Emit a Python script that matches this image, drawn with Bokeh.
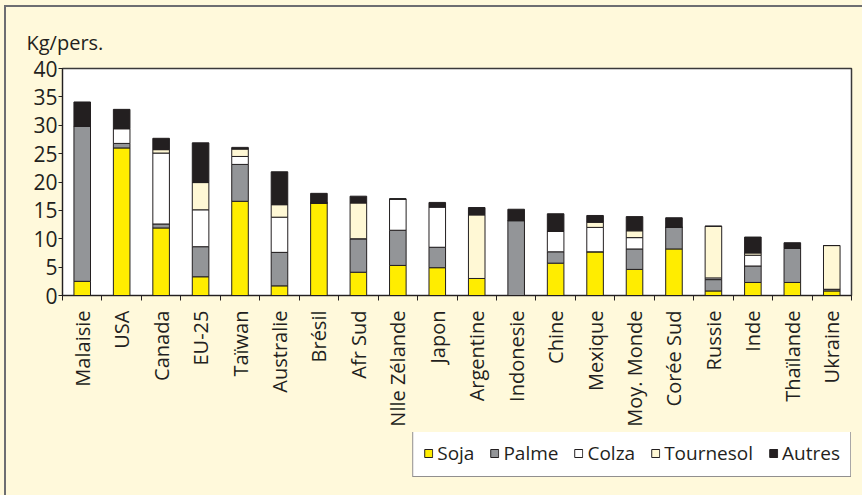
import math
from bokeh.plotting import figure
from bokeh.layouts import column
from bokeh.models import FixedTicker, Legend, LegendItem
from bokeh.embed import file_html
from bokeh.resources import INLINE

countries = ["Malaisie", "USA", "Canada", "EU-25", "Taïwan", "Australie", "Brésil",
             "Afr Sud", "Nlle Zélande", "Japon", "Argentine", "Indonesie", "Chine",
             "Mexique", "Moy. Monde", "Corée Sud", "Russie", "Inde", "Thaïlande", "Ukraine"]
soja      = [2.5, 26.0, 11.9, 3.3, 16.6, 1.7, 16.3, 4.1, 5.3, 4.9, 3.0, 0.0, 5.7, 7.7, 4.6, 8.2, 0.8, 2.3, 2.3, 0.8]
palme     = [27.3, 0.8, 0.7, 5.3, 6.5, 5.9, 0.0, 5.9, 6.2, 3.6, 0.0, 13.2, 2.0, 0.0, 3.6, 3.8, 2.0, 2.9, 6.0, 0.3]
colza     = [0.0, 2.6, 12.5, 6.5, 1.4, 6.2, 0.0, 0.0, 5.5, 7.1, 0.0, 0.0, 3.6, 4.3, 2.0, 0.0, 0.3, 1.9, 0.0, 0.0]
tournesol = [0.0, 0.0, 0.6, 4.8, 1.3, 2.2, 0.0, 6.3, 0.0, 0.0, 11.2, 0.0, 0.0, 0.9, 1.2, 0.0, 9.1, 0.4, 0.0, 7.7]
autres    = [4.3, 3.4, 2.0, 7.0, 0.3, 5.8, 1.7, 1.2, 0.0, 0.8, 1.3, 2.0, 3.1, 1.2, 2.5, 1.7, 0.0, 2.8, 1.0, 0.0]
series_names = ["Soja", "Palme", "Colza", "Tournesol", "Autres"]
y_ticks = [0, 5, 10, 15, 20, 25, 30, 35, 40]
y_title = "Kg/pers."

colors = ["#FFED00", "#939598", "#FFFFFF", "#FFF8D5", "#231F20"]
FONT = "Open Sans"
TXT = "#231F20"
BG = "#FFF9DB"

xs = [i + 1 for i in range(len(countries))]
data = {"x": xs, "Soja": soja, "Palme": palme, "Colza": colza,
        "Tournesol": tournesol, "Autres": autres}

W, H1, H2 = 860, 432, 45

p = figure(width=W, height=H1, output_backend="svg", toolbar_location=None,
           x_range=(0.5, len(countries) + 0.5), y_range=(0, 40),
           min_border_left=62, min_border_right=W - 851, min_border_top=68,
           min_border_bottom=H1 - 295)
p.background_fill_color = "white"
p.border_fill_color = BG
p.outline_line_color = "#3A3A3A"
p.outline_line_width = 1.5
p.grid.visible = False

p.vbar_stack(series_names, x="x", width=0.42, source=data, color=colors,
             line_color="#231F20", line_width=1)

# title used as the y unit label
p.title.text = y_title
p.title.text_font = FONT
p.title.text_font_size = "20px"
p.title.text_font_style = "normal"
p.title.text_color = TXT
p.title.align = "left"
p.title.offset = -36
p.title.standoff = 26

# axes
p.yaxis.ticker = FixedTicker(ticks=y_ticks)
p.yaxis.major_label_text_font = FONT
p.yaxis.major_label_text_font_size = "21px"
p.yaxis.major_label_text_color = TXT
p.yaxis.axis_line_color = TXT
p.yaxis.major_tick_line_color = TXT
p.yaxis.major_tick_out = 4
p.yaxis.major_tick_in = 0
p.yaxis.minor_tick_line_color = None
p.yaxis.major_label_standoff = 1

p.xaxis.ticker = FixedTicker(ticks=xs, minor_ticks=[x - 0.5 for x in xs] + [xs[-1] + 0.5])
p.xaxis.major_label_overrides = {x: c for x, c in zip(xs, countries)}
p.xaxis.major_label_orientation = math.pi / 2
p.xaxis.major_label_text_font = FONT
p.xaxis.major_label_text_font_size = "20px"
p.xaxis.major_label_text_color = TXT
p.xaxis.axis_line_color = TXT
p.xaxis.major_tick_line_color = None
p.xaxis.major_tick_out = 0
p.xaxis.major_tick_in = 0
p.xaxis.minor_tick_line_color = TXT
p.xaxis.minor_tick_out = 5
p.xaxis.minor_tick_in = 0
p.xaxis.major_label_standoff = 10

# legend strip: same series, drawn out of view, only its legend shows
lg = figure(width=W, height=H2, output_backend="svg", toolbar_location=None,
            x_range=(0.5, len(countries) + 0.5), y_range=(1000, 1001),
            min_border=0, x_axis_type=None, y_axis_type=None)
lg.background_fill_color = BG
lg.border_fill_color = BG
lg.outline_line_color = None
lg.grid.visible = False
rs = lg.vbar_stack(series_names, x="x", width=0.42, source=data, color=colors,
                   line_color="#231F20", line_width=1)
legend = Legend(items=[LegendItem(label=n, renderers=[r]) for n, r in zip(series_names, rs)],
                orientation="horizontal", location="bottom_right",
                label_text_font=FONT, label_text_font_size="19px", label_text_color=TXT,
                glyph_width=10, glyph_height=10, label_standoff=4, spacing=15,
                padding=10, margin=0, border_line_color="#231F20", border_line_width=1.2,
                background_fill_color="white", background_fill_alpha=1.0)
lg.add_layout(legend, "center")

layout = column(p, lg, spacing=0)

html = file_html(layout, INLINE)
html = html.replace("<head>", "<head><style>html,body{background:%s;}</style>" % BG, 1)
html = html.replace("</body>", '<div style="position:fixed;left:4px;top:5px;width:1000px;height:1000px;'
                    'border-left:2px solid #6D6E71;border-top:2px solid #6D6E71;pointer-events:none"></div></body>', 1)
open("out.html", "w").write(html)
